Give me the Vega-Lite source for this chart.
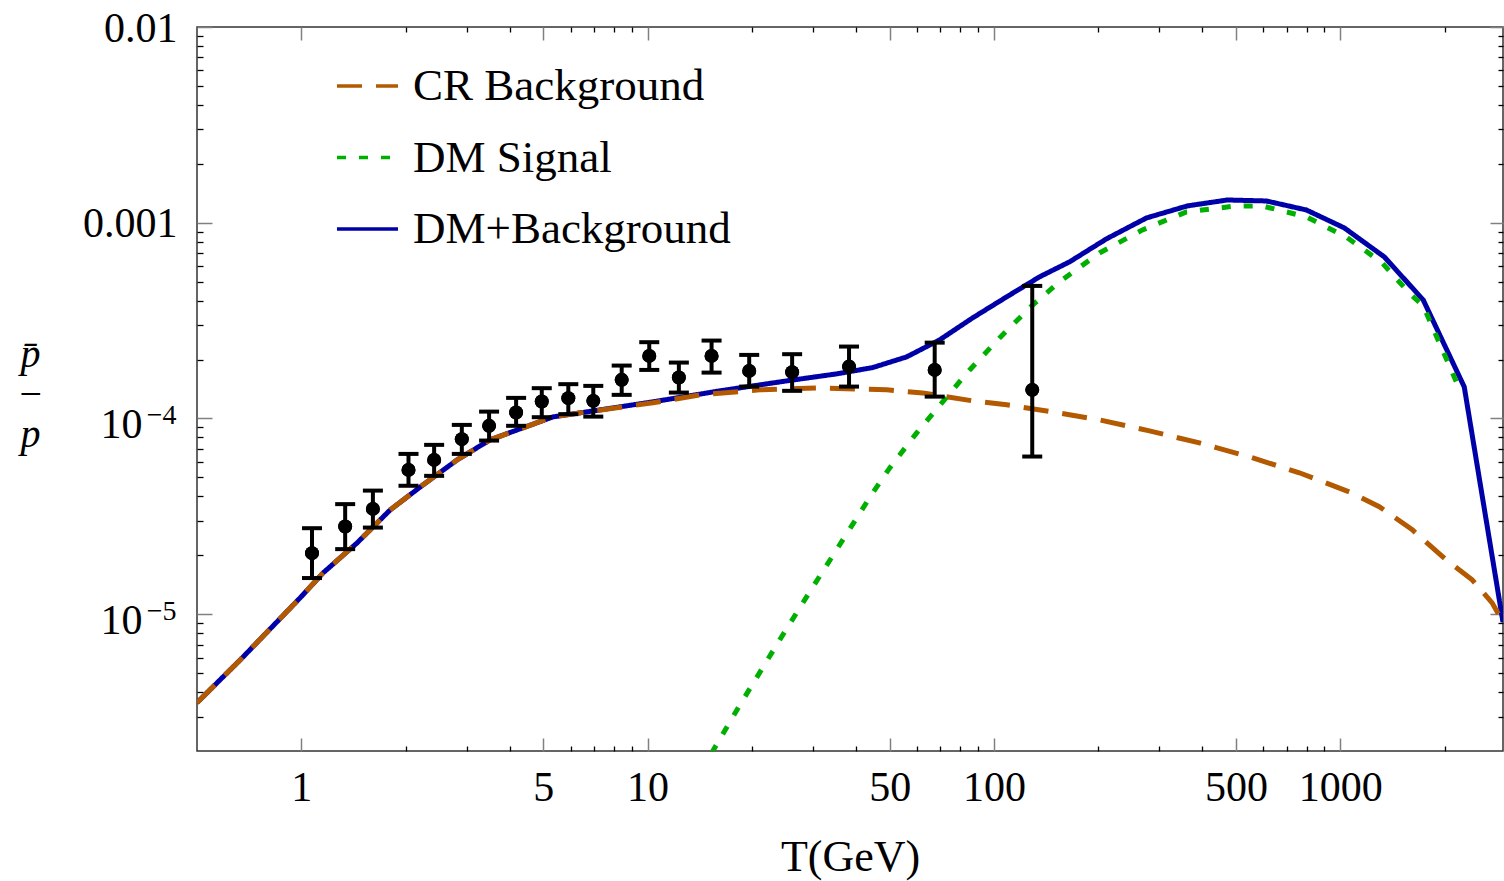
{
  "$schema": "https://vega.github.io/schema/vega-lite/v6.json",
  "width": 1306,
  "height": 724,
  "autosize": "none",
  "padding": {"left": 197, "top": 27, "right": 1, "bottom": 130},
  "background": "white",
  "config": {
    "view": {"stroke": "#333", "strokeWidth": 1.5},
    "font": "Liberation Serif",
    "axis": {"grid": false, "domain": false, "labelFont": "Liberation Serif", "titleFont": "Liberation Serif", "labelColor": "#000", "titleColor": "#000", "titleFontWeight": "normal", "labelFlush": false, "labelOverlap": false, "labelLimit": 500}
  },
  "datasets": {
    "lines": [
      {"T": 0.5, "v": 3.53e-6, "series": "DM+Background"},
      {"T": 0.667, "v": 5.85e-6, "series": "DM+Background"},
      {"T": 0.993, "v": 1.213e-5, "series": "DM+Background"},
      {"T": 1.157, "v": 1.627e-5, "series": "DM+Background"},
      {"T": 1.45, "v": 2.315e-5, "series": "DM+Background"},
      {"T": 1.806, "v": 3.41e-5, "series": "DM+Background"},
      {"T": 2.248, "v": 4.58e-5, "series": "DM+Background"},
      {"T": 2.818, "v": 6.14e-5, "series": "DM+Background"},
      {"T": 3.51, "v": 7.78e-5, "series": "DM+Background"},
      {"T": 4.369, "v": 8.96e-5, "series": "DM+Background"},
      {"T": 5.333, "v": 1.019e-4, "series": "DM+Background"},
      {"T": 6.683, "v": 1.081e-4, "series": "DM+Background"},
      {"T": 10.36, "v": 1.216e-4, "series": "DM+Background"},
      {"T": 16.17, "v": 1.384e-4, "series": "DM+Background"},
      {"T": 25.23, "v": 1.556e-4, "series": "DM+Background"},
      {"T": 35.17, "v": 1.69e-4, "series": "DM+Background"},
      {"T": 44.67, "v": 1.82e-4, "series": "DM+Background"},
      {"T": 55.99, "v": 2.064e-4, "series": "DM+Background"},
      {"T": 69.7, "v": 2.52e-4, "series": "DM+Background"},
      {"T": 86.8, "v": 3.265e-4, "series": "DM+Background"},
      {"T": 108.8, "v": 4.18e-4, "series": "DM+Background"},
      {"T": 135.4, "v": 5.29e-4, "series": "DM+Background"},
      {"T": 165.3, "v": 6.31e-4, "series": "DM+Background"},
      {"T": 211.3, "v": 8.27e-4, "series": "DM+Background"},
      {"T": 275.7, "v": 1.058e-3, "series": "DM+Background"},
      {"T": 362, "v": 1.219e-3, "series": "DM+Background"},
      {"T": 472.2, "v": 1.307e-3, "series": "DM+Background"},
      {"T": 611.8, "v": 1.292e-3, "series": "DM+Background"},
      {"T": 798, "v": 1.162e-3, "series": "DM+Background"},
      {"T": 1027, "v": 9.41e-4, "series": "DM+Background"},
      {"T": 1340, "v": 6.69e-4, "series": "DM+Background"},
      {"T": 1736, "v": 4.03e-4, "series": "DM+Background"},
      {"T": 2280, "v": 1.45e-4, "series": "DM+Background"},
      {"T": 2950, "v": 9.1e-6, "series": "DM+Background"},
      {"T": 0.5, "v": 3.53e-6, "series": "CR Background"},
      {"T": 0.667, "v": 5.85e-6, "series": "CR Background"},
      {"T": 0.993, "v": 1.213e-5, "series": "CR Background"},
      {"T": 1.157, "v": 1.627e-5, "series": "CR Background"},
      {"T": 1.45, "v": 2.315e-5, "series": "CR Background"},
      {"T": 1.806, "v": 3.41e-5, "series": "CR Background"},
      {"T": 2.248, "v": 4.58e-5, "series": "CR Background"},
      {"T": 2.818, "v": 6.14e-5, "series": "CR Background"},
      {"T": 3.51, "v": 7.78e-5, "series": "CR Background"},
      {"T": 4.369, "v": 8.96e-5, "series": "CR Background"},
      {"T": 5.333, "v": 1.019e-4, "series": "CR Background"},
      {"T": 6.683, "v": 1.081e-4, "series": "CR Background"},
      {"T": 10.36, "v": 1.202e-4, "series": "CR Background"},
      {"T": 14.16, "v": 1.32e-4, "series": "CR Background"},
      {"T": 21.09, "v": 1.4e-4, "series": "CR Background"},
      {"T": 31.41, "v": 1.433e-4, "series": "CR Background"},
      {"T": 49.02, "v": 1.4e-4, "series": "CR Background"},
      {"T": 62.27, "v": 1.351e-4, "series": "CR Background"},
      {"T": 86.8, "v": 1.23e-4, "series": "CR Background"},
      {"T": 108.8, "v": 1.174e-4, "series": "CR Background"},
      {"T": 147.6, "v": 1.081e-4, "series": "CR Background"},
      {"T": 201.7, "v": 9.83e-5, "series": "CR Background"},
      {"T": 281.2, "v": 8.64e-5, "series": "CR Background"},
      {"T": 392, "v": 7.5e-5, "series": "CR Background"},
      {"T": 546.5, "v": 6.37e-5, "series": "CR Background"},
      {"T": 761.6, "v": 5.28e-5, "series": "CR Background"},
      {"T": 1061, "v": 4.22e-5, "series": "CR Background"},
      {"T": 1296, "v": 3.54e-5, "series": "CR Background"},
      {"T": 1614, "v": 2.7e-5, "series": "CR Background"},
      {"T": 2021, "v": 1.896e-5, "series": "CR Background"},
      {"T": 2403, "v": 1.498e-5, "series": "CR Background"},
      {"T": 2744, "v": 1.143e-5, "series": "CR Background"},
      {"T": 2950, "v": 9.1e-6, "series": "CR Background"},
      {"T": 15.3, "v": 1.95e-6, "series": "DM Signal"},
      {"T": 18.34, "v": 3.37e-6, "series": "DM Signal"},
      {"T": 24.08, "v": 7.4e-6, "series": "DM Signal"},
      {"T": 29.39, "v": 1.301e-5, "series": "DM Signal"},
      {"T": 37.09, "v": 2.485e-5, "series": "DM Signal"},
      {"T": 44.67, "v": 4.17e-5, "series": "DM Signal"},
      {"T": 50.03, "v": 5.59e-5, "series": "DM Signal"},
      {"T": 59.84, "v": 8.44e-5, "series": "DM Signal"},
      {"T": 71.11, "v": 1.216e-4, "series": "DM Signal"},
      {"T": 85.09, "v": 1.77e-4, "series": "DM Signal"},
      {"T": 103.8, "v": 2.58e-4, "series": "DM Signal"},
      {"T": 129.3, "v": 3.8e-4, "series": "DM Signal"},
      {"T": 154.7, "v": 4.99e-4, "series": "DM Signal"},
      {"T": 201.7, "v": 7.01e-4, "series": "DM Signal"},
      {"T": 268.4, "v": 9.19e-4, "series": "DM Signal"},
      {"T": 359.5, "v": 1.136e-3, "series": "DM Signal"},
      {"T": 501.2, "v": 1.219e-3, "series": "DM Signal"},
      {"T": 595.7, "v": 1.219e-3, "series": "DM Signal"},
      {"T": 798, "v": 1.071e-3, "series": "DM Signal"},
      {"T": 1041, "v": 8.46e-4, "series": "DM Signal"},
      {"T": 1322, "v": 6.23e-4, "series": "DM Signal"},
      {"T": 1581, "v": 4.38e-4, "series": "DM Signal"},
      {"T": 1736, "v": 3.76e-4, "series": "DM Signal"},
      {"T": 2234, "v": 1.351e-4, "series": "DM Signal"}
    ],
    "pts": [
      {"T": 1.074, "r": 2.05e-5, "lo": 1.53e-5, "hi": 2.75e-5},
      {"T": 1.339, "r": 2.805e-5, "lo": 2.15e-5, "hi": 3.65e-5},
      {"T": 1.61, "r": 3.45e-5, "lo": 2.77e-5, "hi": 4.28e-5},
      {"T": 2.04, "r": 5.46e-5, "lo": 4.53e-5, "hi": 6.59e-5},
      {"T": 2.419, "r": 6.14e-5, "lo": 5.09e-5, "hi": 7.33e-5},
      {"T": 2.908, "r": 7.84e-5, "lo": 6.59e-5, "hi": 9.27e-5},
      {"T": 3.486, "r": 9.17e-5, "lo": 7.71e-5, "hi": 1.084e-4},
      {"T": 4.172, "r": 1.072e-4, "lo": 9.17e-5, "hi": 1.274e-4},
      {"T": 4.948, "r": 1.22e-4, "lo": 1.015e-4, "hi": 1.428e-4},
      {"T": 5.903, "r": 1.27e-4, "lo": 1.052e-4, "hi": 1.497e-4},
      {"T": 6.969, "r": 1.23e-4, "lo": 1.022e-4, "hi": 1.467e-4},
      {"T": 8.418, "r": 1.575e-4, "lo": 1.32e-4, "hi": 1.863e-4},
      {"T": 10.11, "r": 2.088e-4, "lo": 1.77e-4, "hi": 2.453e-4},
      {"T": 12.31, "r": 1.618e-4, "lo": 1.356e-4, "hi": 1.93e-4},
      {"T": 15.3, "r": 2.088e-4, "lo": 1.715e-4, "hi": 2.5e-4},
      {"T": 19.65, "r": 1.75e-4, "lo": 1.455e-4, "hi": 2.112e-4},
      {"T": 26.14, "r": 1.724e-4, "lo": 1.384e-4, "hi": 2.13e-4},
      {"T": 38.16, "r": 1.841e-4, "lo": 1.455e-4, "hi": 2.33e-4},
      {"T": 67.44, "r": 1.77e-4, "lo": 1.293e-4, "hi": 2.44e-4},
      {"T": 129.0, "r": 1.4e-4, "lo": 6.39e-5, "hi": 4.755e-4}
    ]
  },
  "layer": [
    {
      "data": {"name": "lines"},
      "mark": {"type": "line", "strokeWidth": 5, "clip": true, "strokeCap": "butt"},
      "encoding": {
        "x": {"field": "T", "type": "quantitative", "scale": {"type": "log", "domain": [0.5, 2950], "nice": false},
          "axis": {"orient": "bottom", "values": [1, 5, 10, 50, 100, 500, 1000], "offset": -13, "tickSize": 13, "tickColor": "#808080", "tickWidth": 1.5,
            "labelExpr": "format(datum.value, 'd')", "labelFontSize": 42, "labelPadding": 16,
            "title": "T(GeV)", "titleFontSize": 44, "titleY": 132, "titleBaseline": "alphabetic"}},
        "y": {"field": "v", "type": "quantitative", "scale": {"type": "log", "domain": [2e-6, 0.01], "nice": false},
          "axis": {"orient": "left", "values": [0.01, 0.001, 0.0001, 0.00001], "offset": -15, "tickSize": 15, "tickColor": "#808080", "tickWidth": 1.5,
            "labelExpr": "datum.value > 0.005 ? '0.01' : datum.value > 0.0005 ? '0.001' : ''",
            "labelFontSize": 42, "labelPadding": 20, "labelOffset": 1,
            "title": ["p̄", "−", "p"], "titleAngle": 0, "titleFontSize": 40, "titleFontStyle": "italic", "titleLineHeight": 40,
            "titleX": -182, "titleY": 339, "titleAlign": "center", "titleBaseline": "alphabetic"}},
        "color": {"field": "series", "type": "nominal",
          "scale": {"domain": ["CR Background", "DM Signal", "DM+Background"], "range": ["#b35900", "#00b000", "#0000a8"]},
          "legend": {"orient": "none", "legendX": 138, "legendY": 26.5, "padding": 0, "title": null, "symbolType": "stroke", "symbolSize": 3721, "symbolStrokeWidth": 3.5,
            "labelFont": "Liberation Serif", "labelFontSize": 45, "labelOffset": 13, "rowPadding": 15.5, "labelColor": "#000", "labelLimit": 600}},
        "strokeDash": {"field": "series", "type": "nominal",
          "scale": {"domain": ["CR Background", "DM Signal", "DM+Background"], "range": [[25, 14], [9, 13], [1, 0]]},
          "legend": {"orient": "none", "legendX": 138, "legendY": 26.5, "padding": 0, "title": null, "symbolType": "stroke", "symbolSize": 3721, "symbolStrokeWidth": 3.5,
            "labelFont": "Liberation Serif", "labelFontSize": 45, "labelOffset": 13, "rowPadding": 15.5, "labelColor": "#000", "labelLimit": 600}}
      }
    },
    {
      "data": {"name": "pts"},
      "mark": {"type": "rule", "strokeWidth": 4, "color": "#000"},
      "encoding": {
        "x": {"field": "T", "type": "quantitative", "scale": {"type": "log", "domain": [0.5, 2950], "nice": false},
          "axis": {"orient": "bottom", "values": [2, 3, 4, 6, 7, 8, 9, 20, 30, 40, 60, 70, 80, 90, 200, 300, 400, 600, 700, 800, 900, 2000], "offset": -5, "tickSize": 5, "tickColor": "#000", "tickWidth": 1.3, "labels": false, "title": null}},
        "y": {"field": "lo", "type": "quantitative", "scale": {"type": "log", "domain": [2e-6, 0.01], "nice": false},
          "axis": {"orient": "left", "values": [0.009, 0.008, 0.007, 0.006, 0.005, 0.004, 0.003, 0.002, 0.0009, 0.0008, 0.0007, 0.0006, 0.0005, 0.0004, 0.0003, 0.0002, 0.00009, 0.00008, 0.00007, 0.00006, 0.00005, 0.00004, 0.00003, 0.00002, 0.000009, 0.000008, 0.000007, 0.000006, 0.000005, 0.000004, 0.000003], "offset": -6, "tickSize": 6, "tickColor": "#000", "tickWidth": 1.3, "labels": false, "title": null}},
        "y2": {"field": "hi"}
      }
    },
    {
      "data": {"name": "pts"},
      "mark": {"type": "tick", "orient": "horizontal", "size": 20, "thickness": 4, "color": "#000", "opacity": 1},
      "encoding": {
        "x": {"field": "T", "type": "quantitative", "scale": {"type": "log", "domain": [0.5, 2950], "nice": false},
          "axis": {"orient": "top", "values": [1, 5, 10, 50, 100, 500, 1000], "offset": -13, "tickSize": 13, "tickColor": "#808080", "tickWidth": 1.5, "labels": false, "title": null}},
        "y": {"field": "lo", "type": "quantitative", "scale": {"type": "log", "domain": [2e-6, 0.01], "nice": false},
          "axis": {"orient": "right", "values": [0.01, 0.001, 0.0001, 0.00001], "offset": -13, "tickSize": 13, "tickColor": "#808080", "tickWidth": 1.5, "labels": false, "title": null}}
      }
    },
    {
      "data": {"name": "pts"},
      "mark": {"type": "tick", "orient": "horizontal", "size": 20, "thickness": 4, "color": "#000", "opacity": 1},
      "encoding": {
        "x": {"field": "T", "type": "quantitative", "scale": {"type": "log", "domain": [0.5, 2950], "nice": false},
          "axis": {"orient": "top", "values": [2, 3, 4, 6, 7, 8, 9, 20, 30, 40, 60, 70, 80, 90, 200, 300, 400, 600, 700, 800, 900, 2000], "offset": -5, "tickSize": 5, "tickColor": "#000", "tickWidth": 1.3, "labels": false, "title": null}},
        "y": {"field": "hi", "type": "quantitative", "scale": {"type": "log", "domain": [2e-6, 0.01], "nice": false},
          "axis": {"orient": "right", "values": [0.009, 0.008, 0.007, 0.006, 0.005, 0.004, 0.003, 0.002, 0.0009, 0.0008, 0.0007, 0.0006, 0.0005, 0.0004, 0.0003, 0.0002, 0.00009, 0.00008, 0.00007, 0.00006, 0.00005, 0.00004, 0.00003, 0.00002, 0.000009, 0.000008, 0.000007, 0.000006, 0.000005, 0.000004, 0.000003], "offset": -5, "tickSize": 5, "tickColor": "#000", "tickWidth": 1.3, "labels": false, "title": null}}
      }
    },
    {
      "data": {"name": "pts"},
      "mark": {"type": "circle", "size": 195, "color": "#000", "opacity": 1},
      "encoding": {
        "x": {"field": "T", "type": "quantitative", "scale": {"type": "log", "domain": [0.5, 2950], "nice": false}, "axis": null},
        "y": {"field": "r", "type": "quantitative", "scale": {"type": "log", "domain": [2e-6, 0.01], "nice": false},
          "axis": {"orient": "left", "values": [0.0001, 0.00001], "ticks": false, "offset": 0, "labelExpr": "'10'", "labelFontSize": 42, "labelPadding": 55, "labelOffset": 6, "title": null}}
      }
    },
    {
      "data": {"name": "pts"},
      "mark": {"type": "circle", "size": 195, "color": "#000", "opacity": 1},
      "encoding": {
        "x": {"field": "T", "type": "quantitative", "scale": {"type": "log", "domain": [0.5, 2950], "nice": false}, "axis": null},
        "y": {"field": "r", "type": "quantitative", "scale": {"type": "log", "domain": [2e-6, 0.01], "nice": false},
          "axis": {"orient": "left", "values": [0.0001, 0.00001], "ticks": false, "offset": 0, "labelExpr": "datum.value > 0.00005 ? '−4' : '−5'", "labelFontSize": 28, "labelPadding": 21, "labelOffset": -3, "title": null}}
      }
    }
  ],
  "resolve": {"axis": {"x": "independent", "y": "independent"}}
}
